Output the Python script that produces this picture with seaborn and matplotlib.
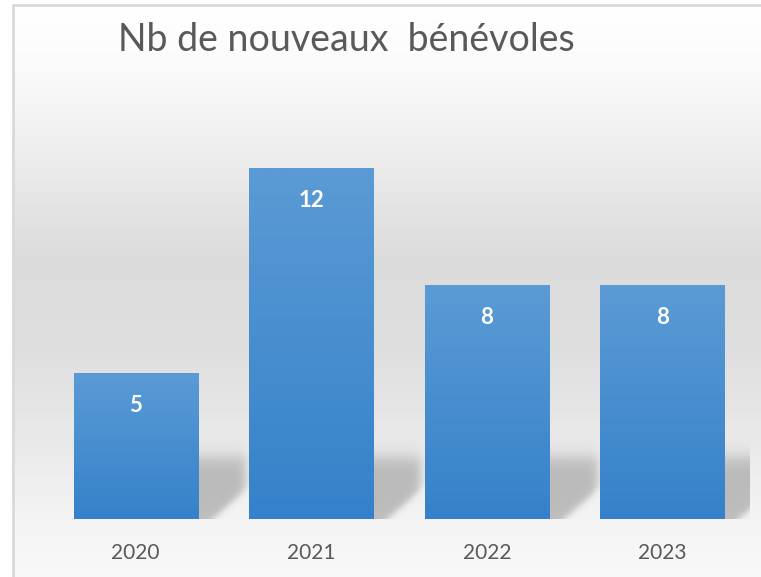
import matplotlib.pyplot as plt
import numpy as np
import pandas as pd
import seaborn as sns
from matplotlib.colors import LinearSegmentedColormap

# data
years = ["2020", "2021", "2022", "2023"]
benevoles = [5, 12, 8, 8]
title = "Nb de nouveaux  bénévoles"

df = pd.DataFrame({"annee": years, "nb": benevoles})

sns.set_theme(style="white")
plt.rcParams["font.family"] = ["Lato", "DejaVu Sans"]

W, H = 761, 577
fig = plt.figure(figsize=(W / 100, H / 100), dpi=100)

# background gradient (Excel-like chart area), pixel coordinates
bg = fig.add_axes([0, 0, 1, 1], zorder=0)
bg.set_xlim(0, W)
bg.set_ylim(H, 0)
bg.axis("off")
ys = np.arange(H)
stops_y = [0, 60, 150, 260, 350, 450, 515, 577]
stops_v = [1.0, 0.985, 0.93, 0.86, 0.875, 0.92, 0.955, 0.975]
shade = np.interp(ys, stops_y, stops_v)
img = np.repeat(shade[:, None], 2, axis=1)
bg.imshow(np.dstack([img, img, img]), extent=[13, W, H, 5], aspect="auto", zorder=0)
bg.plot([13, W], [5, 5], color="#d9d9d9", lw=2, zorder=1)
bg.plot([13, 13], [5, H], color="#d9d9d9", lw=2, zorder=1)
bg.text(118, 51, title, fontsize=27, color="#595959", va="baseline", ha="left")

# plot area
ax = fig.add_axes([48 / W, (H - 519) / H, 702 / W, 409 / H], zorder=1)
ax.patch.set_alpha(0)
sns.barplot(data=df, x="annee", y="nb", color="#4a8fd4", width=0.707, ax=ax)
ax.set_xlim(-0.5, 3.5)
ax.set_ylim(0, 14)
sns.despine(ax=ax, left=True, bottom=True)
ax.set_yticks([])
ax.set_xlabel("")
ax.set_ylabel("")
ax.tick_params(axis="x", length=0, pad=17, labelsize=15, labelcolor="#595959")

bar_cmap = LinearSegmentedColormap.from_list("bar", ["#3581ca", "#5b9bd5"])
grad = np.linspace(0, 1, 256)[:, None]

# soft cast shadow, relative pixels from bar bottom-right corner
u = np.linspace(-5, 55, 120)
v = np.linspace(0, 80, 160)
U, V = np.meshgrid(u, v)
sig = lambda z: 1 / (1 + np.exp(-z))
alpha = (0.42 * sig((V - 0.9 * (U - 15)) / 2.5)
         * sig((62 - V) / 5) * sig((48 - U) / 3))
shadow = np.zeros((len(v), len(u), 4))
shadow[..., :3] = 0.45
shadow[..., 3] = alpha
px_x = 702 / 4  # pixels per category
px_y = 409 / 14  # pixels per unit

for patch, val in zip(ax.patches, benevoles):
    x0, y0 = patch.get_x(), patch.get_y()
    w, h = patch.get_width(), patch.get_height()
    ax.imshow(shadow, extent=[x0 + w - 5 / px_x, x0 + w + 55 / px_x, 0, 80 / px_y],
              origin="lower", aspect="auto", zorder=1)
    patch.set_facecolor("none")
    patch.set_edgecolor("none")
    im = ax.imshow(grad, cmap=bar_cmap, extent=[x0, x0 + w, y0, y0 + h],
                   origin="lower", aspect="auto", zorder=2)
    im.set_clip_path(patch)
    ax.text(x0 + w / 2, val - 1.1, str(val), ha="center", va="center",
            color="white", fontsize=16, fontweight="bold", zorder=3)

ax.set_xlim(-0.5, 3.5)
ax.set_ylim(0, 14)

fig.savefig("out.png", dpi=100)
